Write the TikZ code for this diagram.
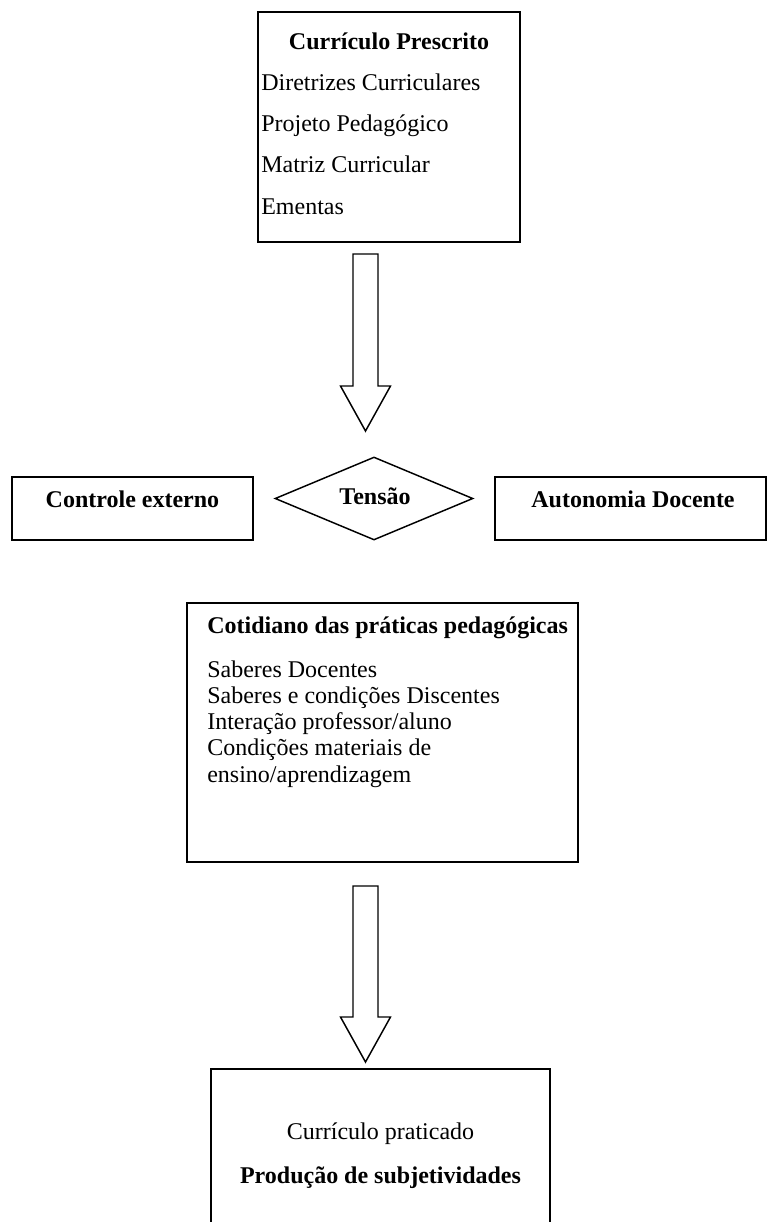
\documentclass[tikz,border=0pt]{standalone}
\usepackage{fontspec}
\setmainfont{Liberation Serif}
\usetikzlibrary{fit,calc,shapes.geometric}

\begin{document}
\begin{tikzpicture}[x=0.75pt,y=-0.75pt,
  box/.style={draw=black,line width=1.2pt,inner sep=0pt},
  txt/.style={inner sep=0pt,font=\fontsize{18}{20}\selectfont},
  btxt/.style={inner sep=0pt,font=\fontsize{18}{20}\selectfont\bfseries},
  blk/.style={draw=black,line width=1.1pt,fill=white,line join=miter}]
\useasboundingbox (0,0) rectangle (768,1222);
\begin{scope}
\clip (0,0) rectangle (768,1222);

% prescribed curriculum
\node[box,fit={(258,12) (520,242)}] (pres) {};
\node[btxt,anchor=base] (presT) at (389,49) {Currículo Prescrito};
\node[txt,anchor=base west] (p1) at (261,90) {Diretrizes Curriculares};
\node[txt,anchor=base west] (p2) at (261,131) {Projeto Pedagógico};
\node[txt,anchor=base west] (p3) at (261,172) {Matriz Curricular};
\node[txt,anchor=base west] (p4) at (261,214) {Ementas};

% tension row
\node[box,fit={(12,477) (253,540)}] (ctrl) {};
\node[btxt,anchor=base] (ctrlT) at (132.5,507) {Controle externo};
\node[draw=black,line width=1.1pt,diamond,inner sep=0pt,
      minimum width=148.5pt,minimum height=62.25pt] (tens) at (374,498.5) {};
\node[btxt,anchor=base] (tensT) at (375,504) {Tensão};
\node[box,fit={(495,477) (766,540)}] (auto) {};
\node[btxt,anchor=base] (autoT) at (633,507) {Autonomia Docente};

% everyday practice
\node[box,fit={(187,603) (578,862)}] (cot) {};
\node[btxt,anchor=base west] (cotT) at (207,633) {Cotidiano das práticas pedagógicas};
\node[txt,anchor=base west] (c1) at (207,677) {Saberes Docentes};
\node[txt,anchor=base west] (c2) at (207,703.3) {Saberes e condições Discentes};
\node[txt,anchor=base west] (c3) at (207,729.6) {Interação professor/aluno};
\node[txt,anchor=base west] (c4) at (207,755.9) {Condições materiais de};
\node[txt,anchor=base west] (c5) at (207,782.2) {ensino/aprendizagem};

% practised curriculum
\node[box,fit={(211,1069) (550,1260)}] (prat) {};
\node[txt,anchor=base] (pr1) at (380.5,1139) {Currículo praticado};
\node[btxt,anchor=base] (pr2) at (380.5,1183) {Produção de subjetividades};

% block arrows
\coordinate (a1s) at (365.5,254);
\coordinate (a1e) at (365.5,431);
\draw[blk] ($(a1s)+(-12.5,0)$) -- ($(a1e)+(-12.5,-45)$) -- ($(a1e)+(-25,-45)$)
  -- (a1e) -- ($(a1e)+(25,-45)$) -- ($(a1e)+(12.5,-45)$) -- ($(a1s)+(12.5,0)$) -- cycle;

\coordinate (a2s) at (365.5,886);
\coordinate (a2e) at (365.5,1062);
\draw[blk] ($(a2s)+(-12.5,0)$) -- ($(a2e)+(-12.5,-45)$) -- ($(a2e)+(-25,-45)$)
  -- (a2e) -- ($(a2e)+(25,-45)$) -- ($(a2e)+(12.5,-45)$) -- ($(a2s)+(12.5,0)$) -- cycle;
\end{scope}
\end{tikzpicture}
\end{document}
